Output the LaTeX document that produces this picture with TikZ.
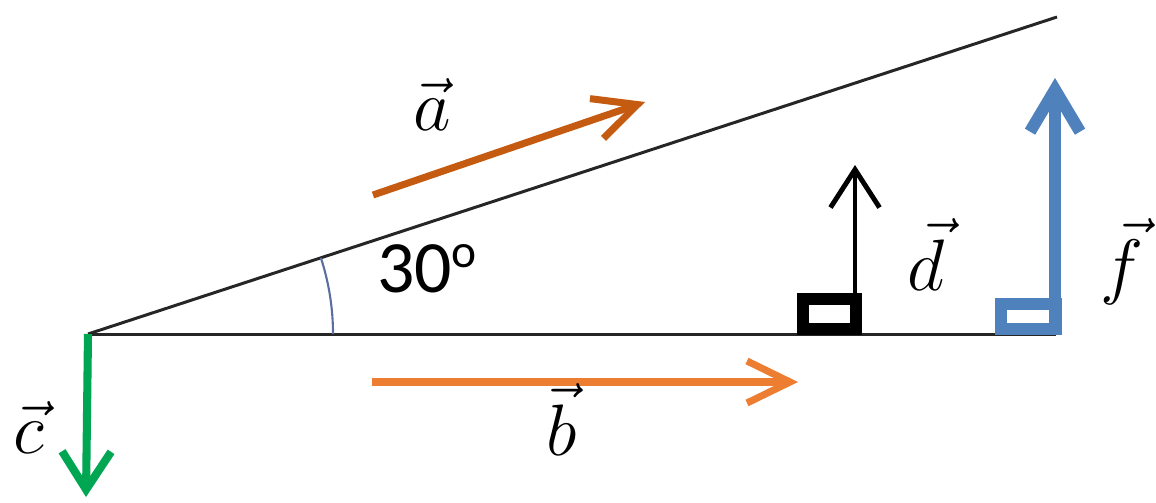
\documentclass[tikz,border=0pt]{standalone}
\usepackage{fontspec}
\newfontfamily\calibri{Carlito}
\usetikzlibrary{arrows.meta}
\definecolor{vbrown}{RGB}{197,90,17}
\definecolor{vorange}{RGB}{237,125,49}
\definecolor{vgreen}{RGB}{0,166,81}
\definecolor{vblue}{RGB}{79,129,189}
\definecolor{arcblue}{RGB}{90,110,160}

\begin{document}
\begin{tikzpicture}[>={Straight Barb[length=4.3mm,width=4.2mm]},
    baseline/.style={line width=0.85pt, black!85},
    vec/.style={->, line width=2pt},
    upvec/.style={-{Straight Barb[length=3.8mm,width=4.9mm]}},
    marker/.style={line width=3.4pt},
    lbl/.style={font=\fontsize{20}{24}\selectfont, inner sep=0pt, anchor=base}]

    \useasboundingbox (0,0) rectangle (11.56,5.02);

    % 斜线与水平线
    \coordinate (o) at (0.88,1.68);
    \coordinate (top) at (10.57,4.85);
    \coordinate (end) at (10.56,1.68);
    \draw[baseline] (o) -- (top);
    \draw[baseline] (o) -- (end);

    % 角度
    \draw[arcblue, line width=0.6pt] ([shift={(0:2.45)}]o) arc[start angle=0, end angle=18.1, radius=2.45];
    \node[font={\calibri\fontsize{21}{25}\selectfont}, inner sep=0pt, anchor=base] (ang) at (4.27,2.10)
        {30\raisebox{7pt}{\fontsize{13.5}{14}\selectfont o}};

    % 矢量
    \coordinate (a0) at (3.73,3.07);
    \coordinate (a1) at (6.45,4.00);
    \coordinate (b0) at (3.72,1.20);
    \coordinate (b1) at (7.98,1.20);
    \coordinate (c1) at (0.86,0.05);
    \coordinate (d0) at (8.55,1.72);
    \coordinate (d1) at (8.55,3.37);
    \coordinate (f0) at (10.55,1.72);
    \coordinate (f1) at (10.55,4.24);
    \draw[vec, vbrown] (a0) -- (a1);
    \draw[vec, vorange] (b0) -- (b1);
    \draw[upvec, vgreen, line width=2.3pt] (o) -- (c1);
    \draw[upvec, line width=1.4pt] (d0) -- (d1);
    \draw[-{Straight Barb[length=4.2mm,width=5mm]}, vblue, line width=3.4pt] (f0) -- (f1);

    % 直角记号
    \draw[marker] (8.03,1.73) rectangle (8.56,2.03);
    \draw[marker, vblue] (10.01,1.73) rectangle (10.56,1.98);

    % 标注
    \node[lbl] (la) at (4.32,3.72) {$\vec{a}$};
    \node[lbl] (lb) at (5.62,0.47) {$\vec{b}$};
    \node[lbl] (lc) at (0.29,0.49) {$\vec{c}$};
    \node[lbl] (ld) at (9.26,2.12) {$\vec{d}$};
    \node[lbl] (lf) at (11.22,2.12) {$\vec{f}$};
\end{tikzpicture}
\end{document}
